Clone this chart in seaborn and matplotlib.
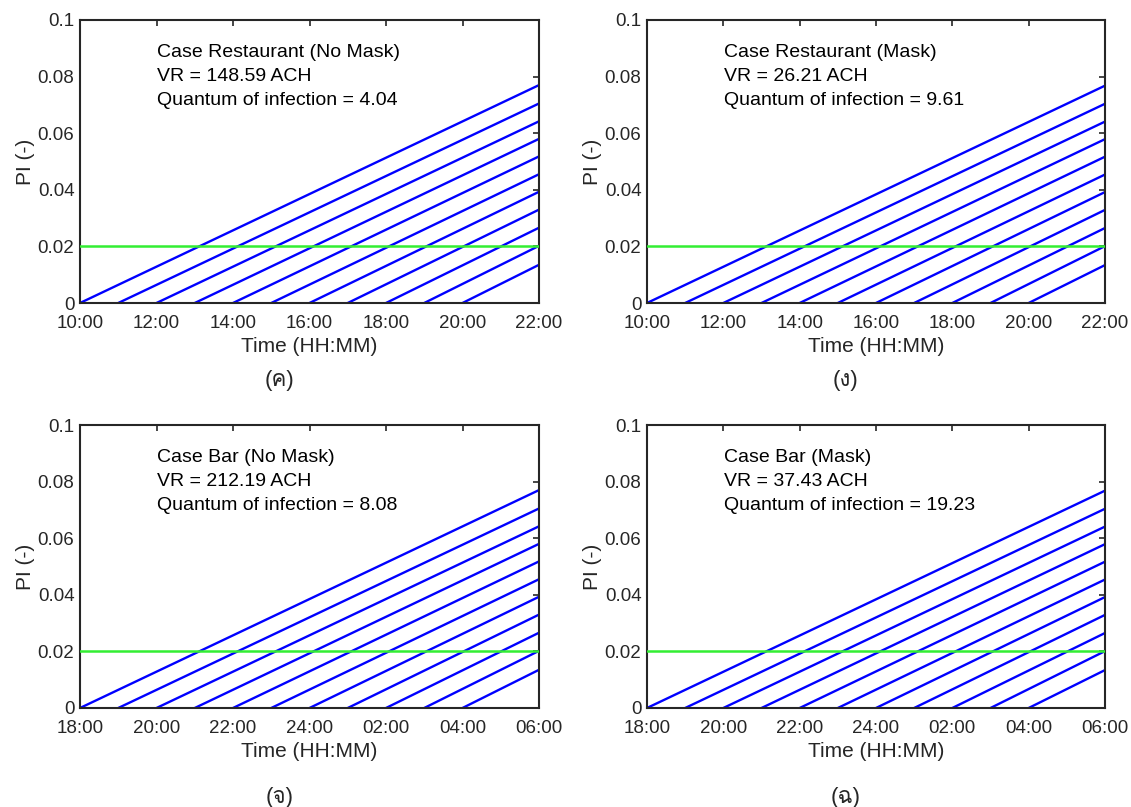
import matplotlib
matplotlib.use("Agg")
import matplotlib.pyplot as plt
from matplotlib import font_manager
from matplotlib.ft2font import FT2Font
import seaborn as sns
import pandas as pd

# ---------------- data ----------------
start_hours = [0, 1, 2, 3, 4, 5, 6, 7, 8, 9, 10]          # exposure start (hours after opening)
end_hour = 12
pi_end_restaurant_nomask = [0.0770, 0.0705, 0.0642, 0.0580, 0.0518, 0.0455, 0.0393, 0.0330, 0.0266, 0.0202, 0.0135]
pi_end_restaurant_mask = [0.0768, 0.0704, 0.0641, 0.0579, 0.0517, 0.0454, 0.0392, 0.0329, 0.0265, 0.0201, 0.0134]
pi_end_bar_nomask = [0.0770, 0.0705, 0.0642, 0.0580, 0.0518, 0.0455, 0.0393, 0.0330, 0.0266, 0.0202, 0.0135]
pi_end_bar_mask = [0.0768, 0.0704, 0.0641, 0.0579, 0.0517, 0.0454, 0.0392, 0.0329, 0.0265, 0.0201, 0.0134]
threshold = 0.02

xticks_hours = [0, 2, 4, 6, 8, 10, 12]
xlabels_restaurant = ["10:00", "12:00", "14:00", "16:00", "18:00", "20:00", "22:00"]
xlabels_bar = ["18:00", "20:00", "22:00", "24:00", "02:00", "04:00", "06:00"]
yticks = [0, 0.02, 0.04, 0.06, 0.08, 0.1]
yticklabels = ["0", "0.02", "0.04", "0.06", "0.08", "0.1"]

case_names = ["Case Restaurant (No Mask)", "Case Restaurant (Mask)", "Case Bar (No Mask)", "Case Bar (Mask)"]
vr_values = ["148.59", "26.21", "212.19", "37.43"]
quanta = ["4.04", "9.61", "8.08", "19.23"]
captions = ["(ค)", "(ง)", "(จ)", "(ฉ)"]

# ---------------- style ----------------
sns.set_theme(style="white")

def find_thai_font():
    for f in font_manager.fontManager.ttflist:
        try:
            cm = FT2Font(f.fname).get_charmap()
            if 0x0E04 in cm and 0x0E07 in cm and 0x0E08 in cm and 0x0E09 in cm:
                return f.name
        except Exception:
            continue
    return None

thai = find_thai_font()
fam = ["Liberation Sans"] + ([thai] if thai else []) + ["DejaVu Sans"]
plt.rcParams["font.family"] = fam

text_color = "#262626"
fig = plt.figure(figsize=(11.31, 8.07), dpi=100)
W, H = 1131, 807
boxes = [(80, 20, 539, 303), (647, 20, 1105, 303), (80, 425, 539, 708), (647, 425, 1105, 708)]
caption_y = [380, 380, 797, 797]
ends = [pi_end_restaurant_nomask, pi_end_restaurant_mask, pi_end_bar_nomask, pi_end_bar_mask]
xlabs = [xlabels_restaurant, xlabels_restaurant, xlabels_bar, xlabels_bar]

for i, (x0, y0, x1, y1) in enumerate(boxes):
    ax = fig.add_axes([x0 / W, 1 - y1 / H, (x1 - x0) / W, (y1 - y0) / H])
    rows = []
    for k, (s, v) in enumerate(zip(start_hours, ends[i])):
        rows.append({"line": k, "hour": s, "PI": 0.0})
        rows.append({"line": k, "hour": end_hour, "PI": v})
    df = pd.DataFrame(rows)
    sns.lineplot(data=df, x="hour", y="PI", hue="line", palette=["#0000ff"] * len(start_hours),
                 legend=False, ax=ax, linewidth=1.7, estimator=None, sort=False)
    ax.axhline(threshold, color="#33ee33", linewidth=1.8, zorder=3)
    ax.set_xlim(0, 12)
    ax.set_ylim(0, 0.1)
    ax.set_xticks(xticks_hours)
    ax.set_xticklabels(xlabs[i])
    ax.set_yticks(yticks)
    ax.set_yticklabels(yticklabels)
    ax.tick_params(direction="in", top=True, right=True, length=4, width=1.2,
                   colors=text_color, labelsize=13.5)
    ax.tick_params(axis="x", pad=8.5)
    ax.tick_params(axis="y", pad=4)
    for sp in ax.spines.values():
        sp.set_color(text_color)
        sp.set_linewidth(1.5)
        sp.set_visible(True)
    ax.set_xlabel("Time (HH:MM)", fontsize=15, color=text_color, labelpad=4)
    ax.set_ylabel("PI (-)", fontsize=15, color=text_color, labelpad=2)
    txt = f"{case_names[i]}\nVR = {vr_values[i]} ACH\nQuantum of infection = {quanta[i]}"
    ax.text(0.168, 0.915, txt, transform=ax.transAxes, ha="left", va="top",
            fontsize=14, color="black", linespacing=1.55)
    cx = (x0 + x1) / 2 - 30
    cy = caption_y[i]
    fig.text(cx / W, 1 - cy / H, captions[i], ha="center", va="center", fontsize=16, color=text_color)

fig.savefig("out.png", dpi=100)
